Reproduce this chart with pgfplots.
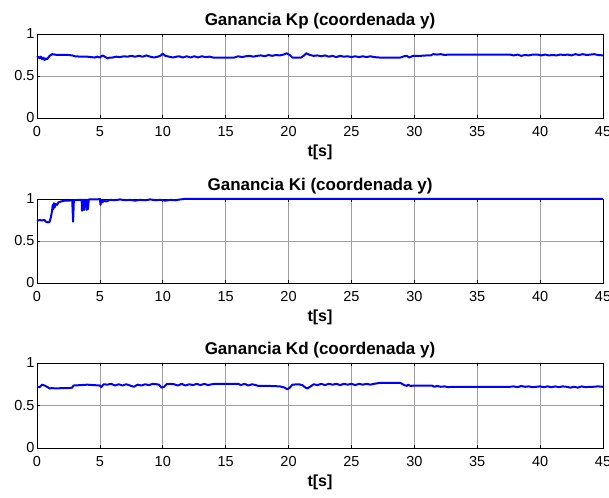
\documentclass[border=0pt]{standalone}
\usepackage{pgfplots}
\pgfplotsset{compat=1.18}
\usepackage{fontspec}
\setmainfont{Liberation Sans}
\definecolor{mblue}{RGB}{0,0,255}
\pgfplotsset{
  mstyle/.style={
    scale only axis, width=566pt, height=84pt, anchor=south west,
    xmin=0, xmax=45, ymin=0, ymax=1,
    xtick={0,5,...,45}, ytick={0,0.5,1},
    yticklabels={0,0.5,1},
    grid=major, major grid style={gray!75, line width=0.6pt},
    tick align=inside, major tick length=3pt,
    axis line style={black, line width=0.9pt},
    every tick/.style={black, line width=0.6pt},
    tick label style={font=\fontsize{14.5}{16}\selectfont},
    /pgf/number format/assume math mode=true,
    xticklabel style={yshift=-4.5pt},
    yticklabel style={xshift=1pt},
    title style={font=\bfseries\fontsize{17}{19}\selectfont, yshift=-5pt},
    xlabel style={font=\bfseries\fontsize{16}{18}\selectfont, yshift=-2pt},
    xlabel={t[s]},
    clip=false,
  },
  mline/.style={mblue, line width=2pt, line join=round},
}
\begin{document}
\begin{tikzpicture}
\path[use as bounding box] (0,0) rectangle (609pt,497pt);
\begin{axis}[mstyle, at={(37pt,379pt)}, title={Ganancia Kp (coordenada y)}]
\addplot[mline] coordinates {(0,0.72)(0.1,0.73)(0.2,0.71)(0.3,0.73)(0.4,0.70)(0.5,0.72)(0.6,0.69)(0.7,0.71)(0.8,0.70)(0.9,0.72)(1.0,0.74)(1.2,0.76)(1.4,0.755)(1.6,0.75)(2.0,0.75)(2.5,0.75)(2.8,0.745)(3.0,0.735)(3.5,0.73)(4.0,0.73)(4.3,0.725)(4.6,0.72)(4.8,0.73)(5.0,0.72)(5.2,0.745)(5.4,0.73)(5.6,0.71)(5.8,0.72)(6.0,0.72)(6.3,0.73)(6.6,0.725)(6.9,0.735)(7.2,0.73)(7.5,0.74)(7.8,0.73)(8.1,0.74)(8.4,0.73)(8.7,0.745)(9.0,0.73)(9.3,0.72)(9.6,0.73)(9.8,0.74)(10.0,0.765)(10.2,0.74)(10.5,0.73)(10.8,0.72)(11.1,0.73)(11.3,0.735)(11.6,0.72)(11.9,0.735)(12.2,0.72)(12.5,0.735)(12.8,0.72)(13.1,0.735)(13.4,0.725)(13.7,0.73)(14.0,0.72)(15.0,0.72)(15.7,0.72)(16.0,0.735)(16.3,0.725)(16.6,0.735)(16.9,0.74)(17.2,0.73)(17.5,0.74)(17.8,0.745)(18.1,0.735)(18.4,0.75)(18.7,0.74)(19.0,0.75)(19.3,0.745)(19.6,0.755)(19.85,0.77)(20.1,0.75)(20.3,0.72)(21.0,0.72)(21.2,0.74)(21.4,0.77)(21.7,0.75)(22.0,0.74)(22.3,0.745)(22.6,0.735)(22.9,0.745)(23.2,0.73)(23.5,0.74)(23.8,0.725)(24.1,0.74)(24.4,0.73)(24.7,0.735)(25.0,0.725)(25.3,0.735)(25.6,0.725)(25.9,0.735)(26.2,0.725)(26.5,0.735)(26.8,0.725)(27.2,0.72)(28.0,0.72)(28.9,0.72)(29.2,0.735)(29.4,0.74)(29.6,0.72)(29.9,0.74)(30.5,0.74)(31.0,0.745)(31.3,0.745)(31.5,0.76)(31.8,0.755)(32.1,0.76)(32.4,0.75)(32.7,0.755)(33.0,0.755)(34,0.755)(35,0.755)(36,0.755)(37,0.755)(37.6,0.755)(37.9,0.745)(38.2,0.755)(38.5,0.74)(38.8,0.75)(39.1,0.745)(39.4,0.755)(39.8,0.755)(40.1,0.745)(40.4,0.755)(40.7,0.745)(41.0,0.75)(41.3,0.745)(41.6,0.755)(41.9,0.75)(42.2,0.755)(42.5,0.745)(42.8,0.76)(43.1,0.75)(43.4,0.76)(43.7,0.75)(44.0,0.755)(44.3,0.76)(44.6,0.75)(45,0.745)};
\end{axis}
\begin{axis}[mstyle, at={(37pt,214pt)}, title={Ganancia Ki (coordenada y)}]
\addplot[mline] coordinates {(0,0.74)(0.2,0.75)(0.4,0.745)(0.6,0.75)(0.7,0.73)(0.9,0.72)(1.0,0.73)(1.1,0.78)(1.2,0.86)(1.25,0.93)(1.3,0.88)(1.35,0.95)(1.4,0.90)(1.5,0.94)(1.6,0.93)(1.7,0.96)(1.9,0.97)(2.2,0.98)(2.5,0.98)(2.8,0.985)(2.87,0.73)(2.93,0.985)(3.3,0.99)(3.55,0.99)(3.58,0.86)(3.62,0.99)(3.72,0.99)(3.75,0.87)(3.78,0.99)(3.92,0.99)(3.95,0.87)(3.98,0.99)(4.05,0.88)(4.12,0.995)(4.8,0.995)(5.0,1.0)(5.05,0.93)(5.1,0.99)(5.2,0.96)(5.3,0.98)(5.5,0.97)(5.8,0.99)(6.2,0.985)(6.6,0.995)(7.0,0.985)(7.4,0.99)(7.8,0.98)(8.2,0.99)(8.6,0.985)(9.0,0.995)(9.4,0.985)(9.8,0.99)(10.2,0.98)(10.6,0.99)(11.0,0.985)(11.4,0.995)(11.7,1.0)(45,1.0)};
\end{axis}
\begin{axis}[mstyle, at={(37pt,49pt)}, height=85pt, title={Ganancia Kd (coordenada y)}]
\addplot[mline] coordinates {(0,0.72)(0.2,0.715)(0.4,0.745)(0.6,0.735)(0.8,0.72)(1.0,0.70)(1.2,0.705)(1.5,0.70)(2.0,0.705)(2.5,0.705)(2.8,0.71)(2.9,0.735)(3.5,0.74)(4.0,0.745)(4.5,0.74)(5.0,0.735)(5.1,0.715)(5.3,0.75)(5.6,0.745)(5.9,0.755)(6.2,0.735)(6.5,0.75)(6.8,0.735)(7.1,0.75)(7.4,0.735)(7.7,0.72)(8.0,0.745)(8.3,0.735)(8.6,0.75)(8.9,0.74)(9.2,0.755)(9.5,0.75)(9.7,0.745)(9.9,0.71)(10.1,0.72)(10.3,0.75)(10.6,0.755)(10.9,0.75)(11.2,0.735)(11.5,0.755)(11.8,0.735)(12.1,0.75)(12.4,0.74)(12.7,0.755)(13.0,0.74)(13.3,0.755)(13.6,0.74)(13.9,0.75)(14.2,0.755)(15.0,0.755)(16.0,0.755)(16.2,0.74)(16.5,0.755)(16.8,0.735)(17.1,0.75)(17.4,0.74)(17.6,0.73)(18.5,0.73)(19.3,0.725)(19.7,0.71)(19.9,0.69)(20.1,0.71)(20.3,0.745)(20.8,0.75)(21.1,0.74)(21.3,0.715)(21.5,0.70)(21.8,0.73)(22.0,0.75)(22.3,0.74)(22.6,0.755)(22.9,0.74)(23.2,0.755)(23.5,0.745)(23.8,0.755)(24.1,0.74)(24.4,0.755)(24.7,0.745)(25.0,0.755)(25.3,0.74)(25.6,0.755)(25.9,0.745)(26.2,0.755)(26.5,0.745)(26.8,0.755)(27.2,0.765)(28.0,0.765)(28.9,0.765)(29.2,0.74)(29.4,0.73)(29.5,0.745)(29.7,0.73)(30.0,0.735)(31.0,0.735)(31.4,0.735)(31.6,0.72)(31.8,0.73)(32.1,0.72)(32.4,0.725)(32.7,0.715)(33.0,0.72)(34,0.72)(35,0.72)(36,0.72)(37,0.72)(37.6,0.72)(37.9,0.725)(38.2,0.715)(38.5,0.73)(38.8,0.72)(39.1,0.725)(39.4,0.715)(39.7,0.72)(40.0,0.725)(40.3,0.715)(40.6,0.725)(40.9,0.715)(41.2,0.725)(41.5,0.715)(41.8,0.725)(42.1,0.72)(42.4,0.71)(42.7,0.72)(43.0,0.71)(43.3,0.725)(43.6,0.715)(43.9,0.72)(44.2,0.72)(44.6,0.725)(45,0.72)};
\end{axis}
\end{tikzpicture}
\end{document}
